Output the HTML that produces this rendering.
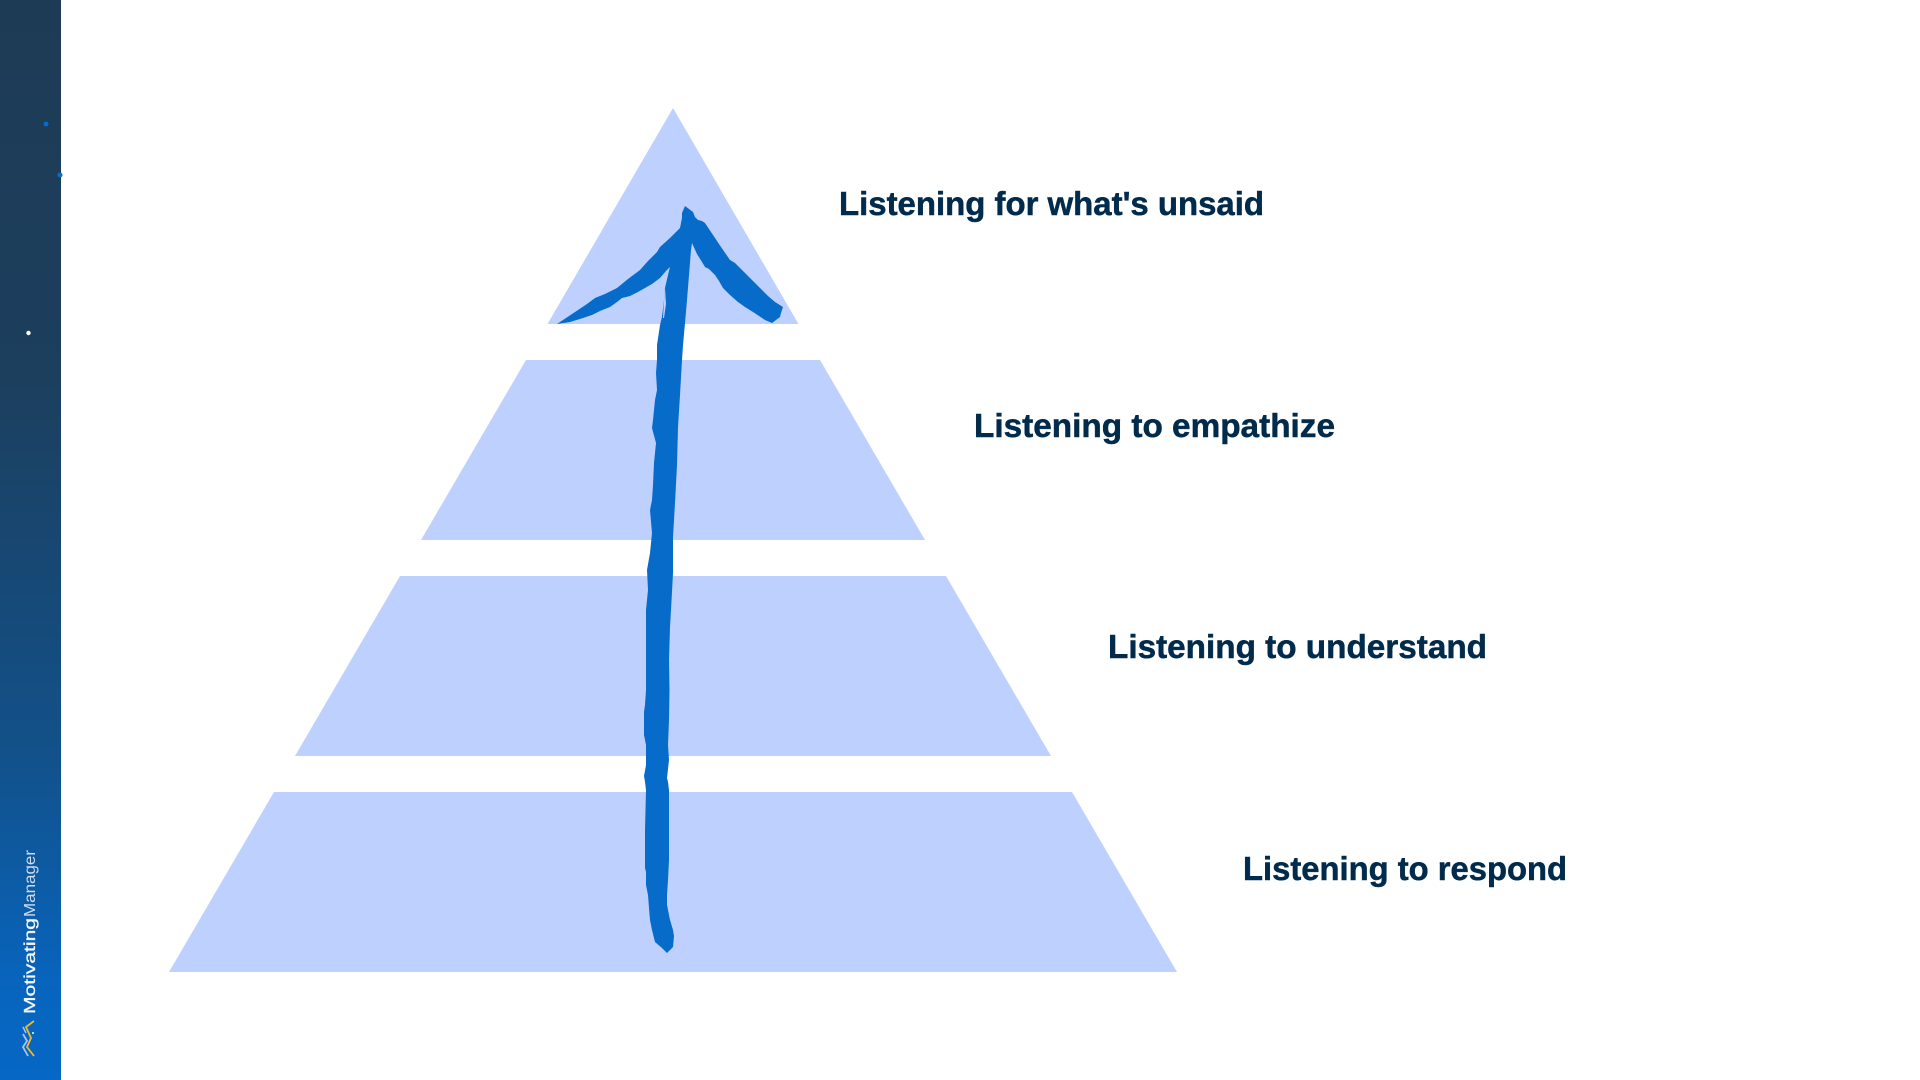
<!DOCTYPE html>
<html>
<head>
<meta charset="utf-8">
<style>
html,body{margin:0;padding:0;background:#fff;width:1920px;height:1080px;overflow:hidden}
svg{display:block}
text{font-family:"Liberation Sans",sans-serif}
</style>
</head>
<body>
<svg width="1920" height="1080" viewBox="0 0 1920 1080" xmlns="http://www.w3.org/2000/svg">
<defs>
<linearGradient id="g" x1="0" y1="0" x2="0" y2="1">
<stop offset="0" stop-color="#1e3b55"/>
<stop offset="0.35" stop-color="#1c3f5e"/>
<stop offset="0.7" stop-color="#12518a"/>
<stop offset="0.92" stop-color="#0765bf"/>
<stop offset="1" stop-color="#0667c4"/>
</linearGradient>
</defs>
<rect x="0" y="0" width="61" height="1080" fill="url(#g)"/>
<circle cx="46" cy="124" r="2.500" fill="#066bc9"/>
<circle cx="60" cy="175" r="2.500" fill="#066bc9"/>
<circle cx="28.500" cy="333" r="2.200" fill="#fff"/>
<text transform="translate(35,1014) rotate(-90)" font-size="16" fill="#f2f5fa" stroke="#f2f5fa" stroke-width="0.300" textLength="96" lengthAdjust="spacingAndGlyphs">Motivating</text>
<text transform="translate(35,917) rotate(-90)" font-size="16" fill="#cfdcf0" textLength="67" lengthAdjust="spacingAndGlyphs">Manager</text>
<polyline points="34,1021 26,1027 31,1038 27,1047 34,1056" fill="none" stroke="#f0b92d" stroke-width="1.800"/>
<polyline points="23,1034 27,1041 23,1047 28,1056" fill="none" stroke="#a8c4f5" stroke-width="1.800"/>
<polyline points="23,1027 26,1033" fill="none" stroke="#a8c4f5" stroke-width="1.500"/>
<circle cx="33" cy="1033" r="1" fill="#fff"/>

<g fill="#bed0fe">
<polygon points="673,108 798.500,324 547.500,324"/>
<polygon points="526,360 820,360 925,540 421,540"/>
<polygon points="400,576 946,576 1051,756 295,756"/>
<polygon points="274,792 1072,792 1177,972 169,972"/>
</g>

<polygon fill="#066bc9" points="
685,206 689,209 693,212 695,217 698,220 702,221 705,223 709,229 713,235 721,247 730,260 735,263 740,268 750,278 760,288 768,296 775,302 783,307 781,313 780,317 776,320 772,323 765,320 753,312 745,307 738,302 730,295 723,288 719,281 715,275 709,269 705,267 702,262 697,254 692,243
691,250 689,275 687,300 685,323 683,345 682,360 680,395 678,427 677,465 675,503 673,537 673,573 671,610 670,627 669,660 669.500,690 669,720 668,745 669,760 667,778 668,782 669,790 669,830 669,860 668,880 667,895 667,905 670,920 673,930 674,936 673,947 667,953 662,948 655,942 652,930 650,920 649,908 648,895 646,885 646,872 645,868 645,850 645,830 646,790 645,782 644,776 646,765 646,745 644,735 644,712 645,705 646,690 646,660 646,610 648,590 647,570 650,553 652,533 650,510 652,500 653,485 654,463 656,443 652,428 653,420 655,400 657,390 656,373 657,360 657,345
660,325 662,317 664,300 665,288 668,275 670,267 666,271 660,278 652,284 645,288 638,292 630,296 622,298 617,302 610,307 600,311 592,315 583,318 570,322 557,324 566,318 572,314 578,310 587,304 595,298 605,294 617,288 628,279 640,270 648,261 657,252 660,247 670,238 680,228 682,218 682,213"/>
<polygon fill="#bed0fe" points="665,288 666,304 664,318 663,318 664,300"/>

<g fill="#002b4c" stroke="#002b4c" stroke-width="0.500" font-weight="bold" font-size="33">
<text x="839" y="215" textLength="425" lengthAdjust="spacingAndGlyphs">Listening for what's unsaid</text>
<text x="974" y="437" textLength="361" lengthAdjust="spacingAndGlyphs">Listening to empathize</text>
<text x="1108" y="658" textLength="379" lengthAdjust="spacingAndGlyphs">Listening to understand</text>
<text x="1243" y="880" textLength="324" lengthAdjust="spacingAndGlyphs">Listening to respond</text>
</g>
</svg>
</body>
</html>
